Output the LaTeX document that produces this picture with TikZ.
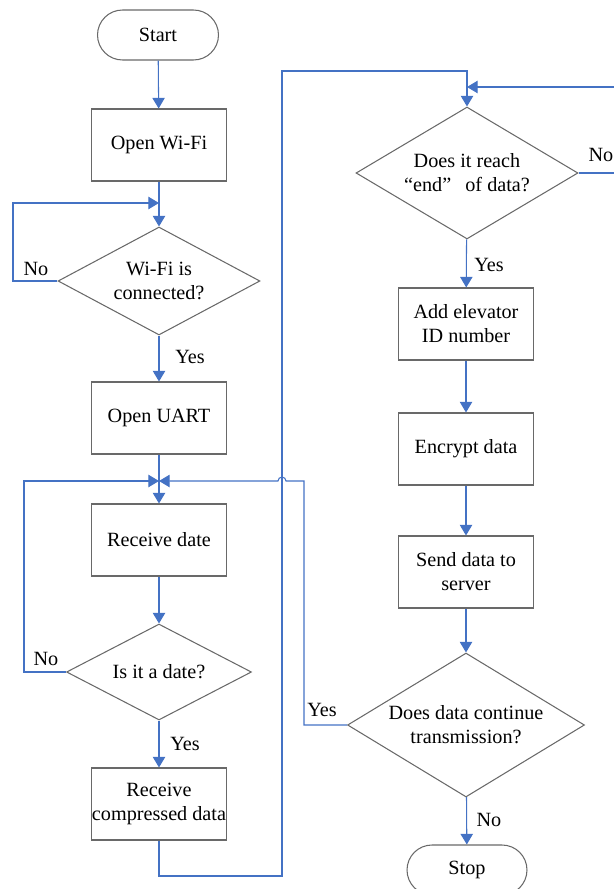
\documentclass[tikz,border=0pt]{standalone}
\usepackage{fontspec}
\setmainfont{Liberation Serif}
\usetikzlibrary{shapes.geometric,arrows.meta}

\definecolor{flowblue}{RGB}{68,114,196}
\definecolor{boxgray}{RGB}{105,105,105}

\begin{document}
\begin{tikzpicture}[x=0.02cm,y=-0.02cm,
  font=\fontsize{11.5pt}{13.6pt}\selectfont,
  proc/.style={draw=boxgray,line width=0.6pt,rectangle,minimum width=2.7cm,minimum height=1.44cm,align=center,inner sep=0pt},
  term/.style={draw=boxgray,line width=0.6pt,rectangle,rounded corners=0.5cm,minimum height=1cm,inner sep=0pt},
  decide/.style={draw=boxgray,line width=0.6pt,diamond,inner sep=0pt},
  flow/.style={draw=flowblue,line width=0.6pt},
  arr/.style={flow,-{Triangle[width=7pt,length=6pt]}}]

% Page frame
\useasboundingbox (0,0) rectangle (614,889);

% Left column
\node[term,minimum width=2.42cm] (start) at (158,35) {Start};
\node[proc] (wifi) at (159,145) {Open Wi-Fi};
\node[decide,minimum width=4.04cm,minimum height=2.16cm,
  label={[align=center]center:Wi-Fi is\\connected?}] (isconn) at (159,281) {};
\node[proc] (uart) at (159,418) {Open UART};
\node[proc] (recvdate) at (159,540) {Receive date};
\node[decide,minimum width=3.7cm,minimum height=1.92cm,
  label={center:Is it a date?}] (isdate) at (159,672) {};
\node[proc] (recvcomp) at (159,804) {Receive\\compressed data};

% Right column
\node[decide,minimum width=4.44cm,minimum height=2.64cm,
  label={[align=center]center:Does it reach\\“end”\hspace{0.7em}of data?}] (isend) at (467,173) {};
\node[proc] (addid) at (466,324) {Add elevator\\ID number};
\node[proc] (encrypt) at (466,449) {Encrypt data};
\node[proc] (send) at (466,572) {Send data to\\server};
\node[decide,minimum width=4.74cm,minimum height=2.88cm,
  label={[align=center]center:Does data continue\\transmission?}] (iscont) at (466,725) {};
\node[term,minimum width=2.4cm] (stop) at (467,870) {Stop};

% Junction points
\coordinate (j1) at (159,203);
\coordinate (j2) at (159,481);
\coordinate (j3) at (467,87);

% Main flow, left
\draw[arr] (start) -- (wifi);
\draw[arr] (wifi) -- (isconn.north);
\draw[arr] (isconn) -- (uart);
\draw[arr] (uart) -- (recvdate);
\draw[arr] (recvdate) -- (isdate.north);
\draw[arr] (isdate) -- (recvcomp);

% No loops, left
\draw[arr] (isconn.west) -- (13,281) |- (j1);
\draw[arr] (isdate.west) -- (24,672) |- (j2);

% Over to the right column
\draw[arr] (recvcomp.south) |- (282,876) -- (282,71) -| (isend.north);

% Main flow, right
\draw[arr] (isend) -- (addid);
\draw[arr] (addid) -- (encrypt);
\draw[arr] (encrypt) -- (send);
\draw[arr] (send) -- (iscont.north);
\draw[arr] (iscont) -- (stop);

% No loop, right (runs off the page edge)
\draw[arr] (isend.east) -- (620,173) |- (j3);

% Yes loop back, hopping over the vertical line
\draw[arr] (iscont.west) -- (304,725) -- (304,481) -- (286,481)
  arc[start angle=0,end angle=180,radius=0.08cm] -- (j2);

% Branch labels
\node (no1) at (36,269) {No};
\node (yes1) at (190,357) {Yes};
\node (no2) at (46,659) {No};
\node (yes2) at (185,744) {Yes};
\node (no3) at (601,155) {No};
\node (yes3) at (489,265) {Yes};
\node (yes4) at (322,710) {Yes};
\node (no4) at (489,820) {No};
\end{tikzpicture}
\end{document}
